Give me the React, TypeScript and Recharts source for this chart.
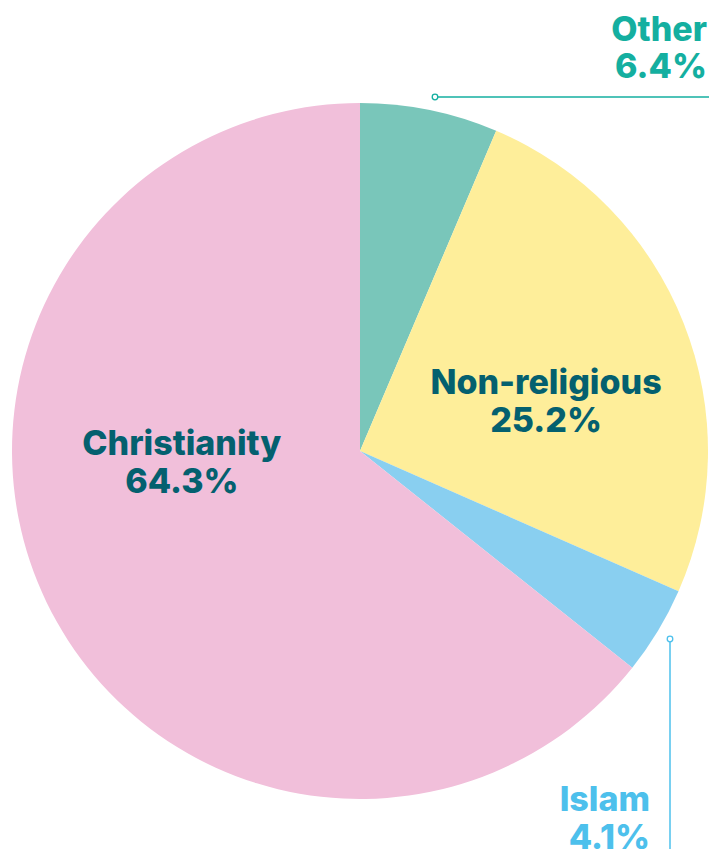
import { PieChart, Pie, Cell } from 'recharts';

const faiths = ['Other', 'Non-religious', 'Islam', 'Christianity'];
const shares = [6.4, 25.2, 4.1, 64.3];
const sliceColors = ['#79C6BA', '#FEEE9A', '#89CFF0', '#F1BFDA'];

const data = faiths.map((name, i) => ({ name, value: shares[i] }));

const RAD = Math.PI / 180;
const FONT = 'Inter, "Open Sans", sans-serif';
const SIZE = 34;
const LINE = 38;

// inside labels: first baseline placed by angle / fraction of the radius
const inside: Record<string, { angle: number; r: number }> = {
  'Non-religious': { angle: 17, r: 0.559 },
  Christianity: { angle: 181.3, r: 0.512 },
};

function renderLabel(props: any) {
  const { cx, cy, outerRadius, name, value } = props;
  const text = `${value.toFixed(1)}%`;

  if (inside[name]) {
    const { angle, r } = inside[name];
    const x = cx + outerRadius * r * Math.cos(angle * RAD);
    const y = cy - outerRadius * r * Math.sin(angle * RAD);
    return (
      <text x={x} y={y} textAnchor="middle" fill="#04606F" fontFamily={FONT} fontWeight={800} fontSize={SIZE}>
        <tspan x={x}>{name}</tspan>
        <tspan x={x} dy={LINE}>{text}</tspan>
      </text>
    );
  }

  if (name === 'Other') {
    const ly = cy - outerRadius - 6;
    const x0 = cx + 75;
    return (
      <g>
        <line x1={x0 + 3} y1={ly} x2={cx + 360} y2={ly} stroke="#14AFA0" strokeWidth={1.5} />
        <circle cx={x0} cy={ly} r={2.8} fill="#fff" stroke="#14AFA0" strokeWidth={1.3} />
        <text x={707} y={41} textAnchor="end" fill="#14AFA0" fontFamily={FONT} fontWeight={800} fontSize={SIZE}>
          <tspan x={707}>{name}</tspan>
          <tspan x={707} dy={37}>{text}</tspan>
        </text>
      </g>
    );
  }

  // Islam
  const lx = cx + 310;
  const y0 = cy + 188;
  return (
    <g>
      <line x1={lx} y1={y0 + 3} x2={lx} y2={860} stroke="#4DC0EC" strokeWidth={1.5} />
      <circle cx={lx} cy={y0} r={2.8} fill="#fff" stroke="#4DC0EC" strokeWidth={1.3} />
      <text x={650} y={811} textAnchor="end" fill="#4DC0EC" fontFamily={FONT} fontWeight={800} fontSize={SIZE}>
        <tspan x={650}>{name}</tspan>
        <tspan x={650} dy={38}>{text}</tspan>
      </text>
    </g>
  );
}

export default function App() {
  return (
    <div style={{ position: 'absolute', left: 0, top: 0, width: 709, height: 849, background: '#fff', overflow: 'hidden' }}>
      <PieChart width={709} height={849} margin={{ top: 0, right: 0, bottom: 0, left: 0 }}>
        <Pie
          data={data}
          dataKey="value"
          nameKey="name"
          cx={360}
          cy={451}
          outerRadius={348}
          startAngle={90}
          endAngle={-270}
          stroke="none"
          label={renderLabel}
          labelLine={false}
          isAnimationActive={false}
        >
          {data.map((d, i) => (
            <Cell key={d.name} fill={sliceColors[i]} />
          ))}
        </Pie>
      </PieChart>
    </div>
  );
}
